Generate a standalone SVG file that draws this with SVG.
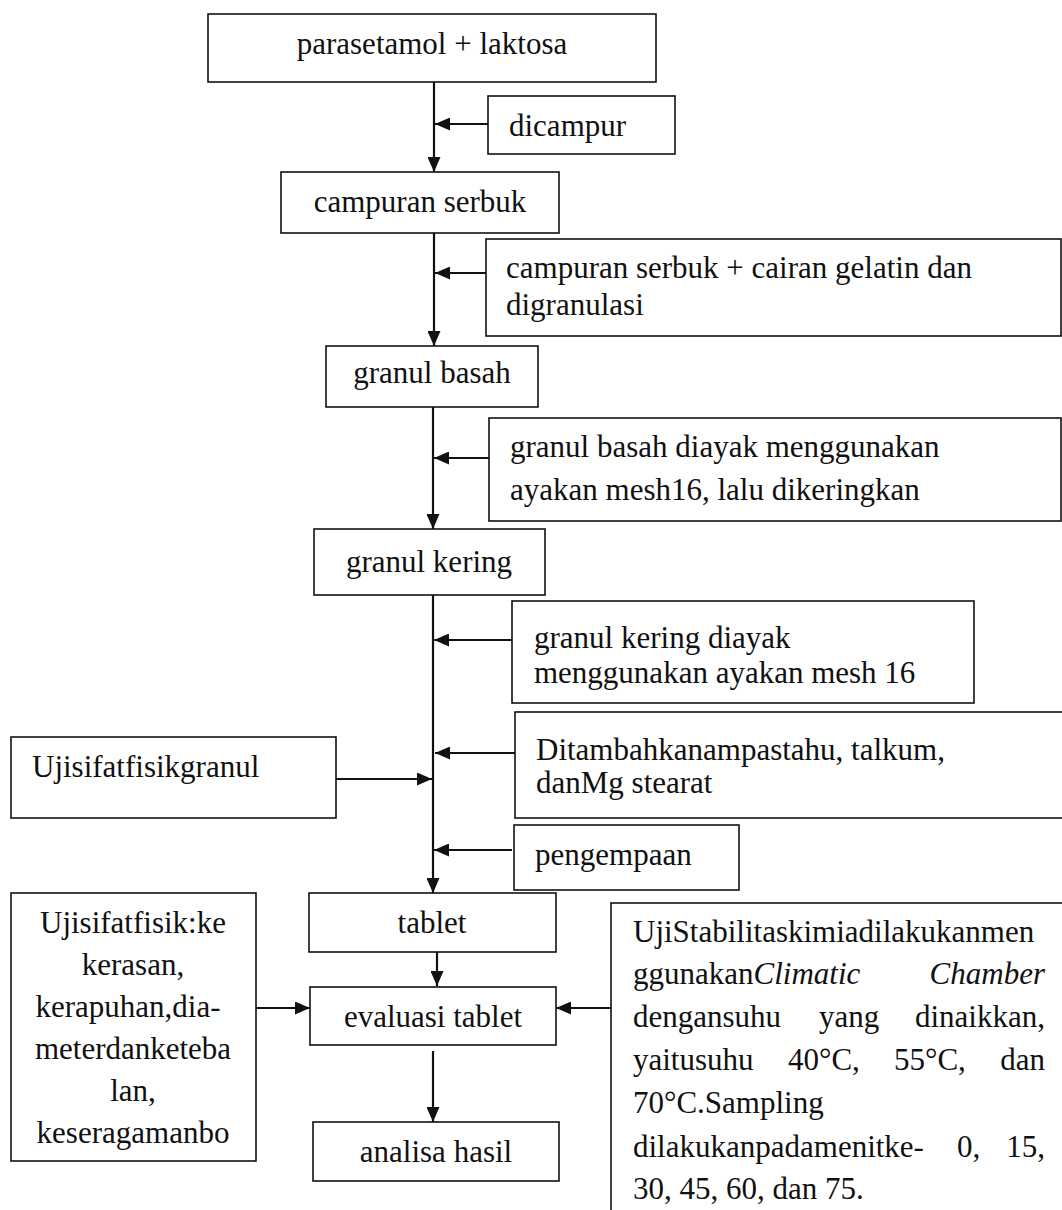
<svg xmlns="http://www.w3.org/2000/svg" width="1062" height="1210" viewBox="0 0 1062 1210">
<defs>
<marker id="ah" markerUnits="userSpaceOnUse" markerWidth="15" markerHeight="13" refX="15" refY="6.5" orient="auto">
<path d="M0,0 L15,6.5 L0,13 z" fill="#111"/>
</marker>
</defs>
<rect width="1062" height="1210" fill="#fff"/>
<g id="connectors" stroke="#111" stroke-width="2.2" fill="none">
<line x1="434" y1="82" x2="434" y2="172" marker-end="url(#ah)"/>
<line x1="488" y1="124" x2="435" y2="124" marker-end="url(#ah)"/>
<line x1="434" y1="233" x2="434" y2="346" marker-end="url(#ah)"/>
<line x1="486" y1="273" x2="435" y2="273" marker-end="url(#ah)"/>
<line x1="433" y1="402" x2="433" y2="529" marker-end="url(#ah)"/>
<line x1="489" y1="458" x2="434" y2="458" marker-end="url(#ah)"/>
<line x1="433" y1="595" x2="433" y2="893" marker-end="url(#ah)"/>
<line x1="512" y1="640" x2="434" y2="640" marker-end="url(#ah)"/>
<line x1="515" y1="753" x2="435" y2="753" marker-end="url(#ah)"/>
<line x1="336" y1="779" x2="432" y2="779" marker-end="url(#ah)"/>
<line x1="512" y1="850" x2="434" y2="850" marker-end="url(#ah)"/>
<line x1="437" y1="952" x2="437" y2="986" marker-end="url(#ah)"/>
<line x1="256" y1="1008" x2="310" y2="1008" marker-end="url(#ah)"/>
<line x1="611" y1="1008" x2="556" y2="1008" marker-end="url(#ah)"/>
<line x1="433" y1="1051" x2="433" y2="1122" marker-end="url(#ah)"/>
</g>
<g id="nodes" font-family="Liberation Serif" font-size="31" fill="#111">
<g id="n-parasetamol">
<rect x="208" y="14" width="448" height="68" fill="#fff" stroke="#111" stroke-width="1.6"/>
<text x="432" y="54" text-anchor="middle">parasetamol + laktosa</text>
</g>
<g id="n-dicampur">
<rect x="488" y="96" width="187" height="58" fill="#fff" stroke="#111" stroke-width="1.6"/>
<text x="509" y="136">dicampur</text>
</g>
<g id="n-campuran">
<rect x="281" y="172" width="278" height="61" fill="#fff" stroke="#111" stroke-width="1.6"/>
<text x="420" y="212" text-anchor="middle">campuran serbuk</text>
</g>
<g id="n-cairan">
<rect x="486" y="239" width="575" height="97" fill="#fff" stroke="#111" stroke-width="1.6"/>
<text x="506" y="278">campuran serbuk + cairan gelatin dan</text>
<text x="506" y="315">digranulasi</text>
</g>
<g id="n-granul-basah">
<rect x="326" y="346" width="212" height="61" fill="#fff" stroke="#111" stroke-width="1.6"/>
<text x="432" y="383" text-anchor="middle">granul basah</text>
</g>
<g id="n-diayak-basah">
<rect x="489" y="418" width="572" height="103" fill="#fff" stroke="#111" stroke-width="1.6"/>
<text x="510" y="457">granul basah diayak menggunakan</text>
<text x="510" y="500">ayakan mesh16, lalu dikeringkan</text>
</g>
<g id="n-granul-kering">
<rect x="314" y="529" width="231" height="66" fill="#fff" stroke="#111" stroke-width="1.6"/>
<text x="429" y="572" text-anchor="middle">granul kering</text>
</g>
<g id="n-diayak-kering">
<rect x="512" y="601" width="462" height="102" fill="#fff" stroke="#111" stroke-width="1.6"/>
<text x="534" y="648">granul kering diayak</text>
<text x="534" y="683">menggunakan ayakan mesh 16</text>
</g>
<g id="n-ditambahkan">
<rect x="515" y="712" width="560" height="106" fill="#fff" stroke="#111" stroke-width="1.6"/>
<text x="536" y="760">Ditambahkanampastahu, talkum,</text>
<text x="536" y="793">danMg stearat</text>
</g>
<g id="n-uji-granul">
<rect x="11" y="737" width="325" height="81" fill="#fff" stroke="#111" stroke-width="1.6"/>
<text x="32" y="777">Ujisifatfisikgranul</text>
</g>
<g id="n-pengempaan">
<rect x="514" y="825" width="225" height="65" fill="#fff" stroke="#111" stroke-width="1.6"/>
<text x="535" y="865">pengempaan</text>
</g>
<g id="n-tablet">
<rect x="309" y="893" width="247" height="59" fill="#fff" stroke="#111" stroke-width="1.6"/>
<text x="432" y="933" text-anchor="middle">tablet</text>
</g>
<g id="n-uji-fisik">
<rect x="11" y="893" width="245" height="268" fill="#fff" stroke="#111" stroke-width="1.6"/>
<text x="133" y="933" text-anchor="middle">Ujisifatfisik:ke</text>
<text x="133" y="975" text-anchor="middle">kerasan,</text>
<text x="128" y="1017" text-anchor="middle">kerapuhan,dia-</text>
<text x="133" y="1059" text-anchor="middle">meterdanketeba</text>
<text x="133" y="1101" text-anchor="middle">lan,</text>
<text x="133" y="1143" text-anchor="middle">keseragamanbo</text>
</g>
<g id="n-evaluasi">
<rect x="310" y="987" width="246" height="58" fill="#fff" stroke="#111" stroke-width="1.6"/>
<text x="433" y="1027" text-anchor="middle">evaluasi tablet</text>
</g>
<g id="n-stabilitas">
<rect x="611" y="903" width="460" height="330" fill="#fff" stroke="#111" stroke-width="1.6"/>
<text x="633" y="942">UjiStabilitaskimiadilakukanmen</text>
<text x="633" y="984">ggunakan<tspan font-style="italic">Climatic</tspan></text>
<text x="1045" y="984" font-style="italic" text-anchor="end">Chamber</text>
<text x="633" y="1027">dengansuhu</text>
<text x="819" y="1027">yang</text>
<text x="1045" y="1027" text-anchor="end">dinaikkan,</text>
<text x="633" y="1070">yaitusuhu</text>
<text x="788" y="1070">40°C,</text>
<text x="894" y="1070">55°C,</text>
<text x="1045" y="1070" text-anchor="end">dan</text>
<text x="633" y="1113">70°C.Sampling</text>
<text x="633" y="1157">dilakukanpadamenitke-</text>
<text x="957" y="1157">0,</text>
<text x="1045" y="1157" text-anchor="end">15,</text>
<text x="633" y="1199">30, 45, 60, dan 75.</text>
</g>
<g id="n-analisa">
<rect x="313" y="1122" width="246" height="59" fill="#fff" stroke="#111" stroke-width="1.6"/>
<text x="436" y="1162" text-anchor="middle">analisa hasil</text>
</g>
</g>
</svg>
